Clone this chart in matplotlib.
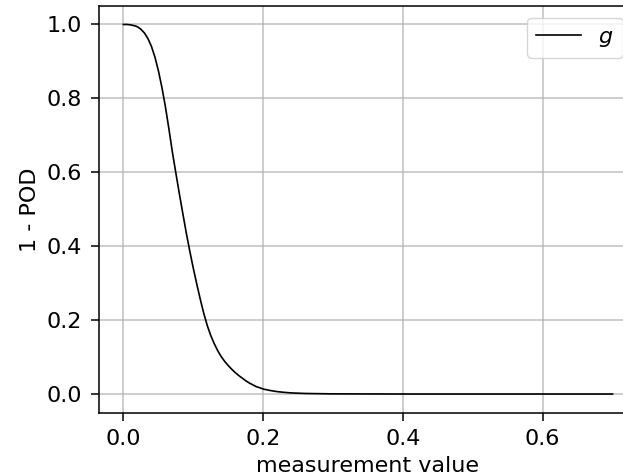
import matplotlib
matplotlib.use("Agg")
import matplotlib.pyplot as plt

meas_x = [0.000, 0.005, 0.010, 0.015, 0.020, 0.025, 0.030, 0.035, 0.040, 0.045,
          0.050, 0.055, 0.060, 0.065, 0.070, 0.075, 0.080, 0.085, 0.090, 0.095,
          0.100, 0.105, 0.110, 0.115, 0.120, 0.125, 0.130, 0.135, 0.140, 0.145,
          0.150, 0.155, 0.160, 0.165, 0.170, 0.175, 0.180, 0.185, 0.190, 0.195,
          0.200, 0.210, 0.220, 0.230, 0.240, 0.260, 0.300, 0.400, 0.500, 0.600, 0.700]
one_minus_pod = [1.000, 1.000, 0.999, 0.997, 0.994, 0.987, 0.977, 0.962, 0.941, 0.912,
                 0.875, 0.830, 0.778, 0.718, 0.655, 0.598, 0.542, 0.488, 0.435, 0.386,
                 0.340, 0.297, 0.256, 0.218, 0.185, 0.158, 0.136, 0.117, 0.101, 0.088,
                 0.077, 0.067, 0.058, 0.050, 0.043, 0.036, 0.030, 0.025, 0.020, 0.017,
                 0.0135, 0.0095, 0.0065, 0.0045, 0.003, 0.0015, 0.0004, 0.0, 0.0, 0.0, 0.0]
xticks = [0.0, 0.2, 0.4, 0.6]
yticks = [0.0, 0.2, 0.4, 0.6, 0.8, 1.0]

plt.rcParams['font.size'] = 16
plt.rcParams['mathtext.fontset'] = 'dejavusans'

fig = plt.figure(figsize=(6.23, 4.76), dpi=100)
# the reference is cropped on the right, so the axes run past the figure edge
ax = fig.add_axes([99 / 623, 1 - 412.5 / 476, (637 - 99) / 623, (412.5 - 6) / 476])

ax.plot(meas_x, one_minus_pod, color='k', lw=1.2, label='$g$')

ax.set_xlim(-0.035, 0.735)
ax.set_ylim(-0.05, 1.05)
ax.set_xticks(xticks)
ax.set_yticks(yticks)
ax.grid(True, color='#b0b0b0', lw=1.1, alpha=0.8)
ax.tick_params(length=6, width=1.1, pad=6)
for s in ax.spines.values():
    s.set_linewidth(1.1)

ax.set_xlabel('measurement value', labelpad=5)
ax.set_ylabel('1 - POD', labelpad=5)

ax.legend(loc='upper right', bbox_to_anchor=(622.5 / 623, 1 - 18 / 476),
          bbox_transform=fig.transFigure, borderaxespad=0)

fig.savefig('out.png', dpi=100)
